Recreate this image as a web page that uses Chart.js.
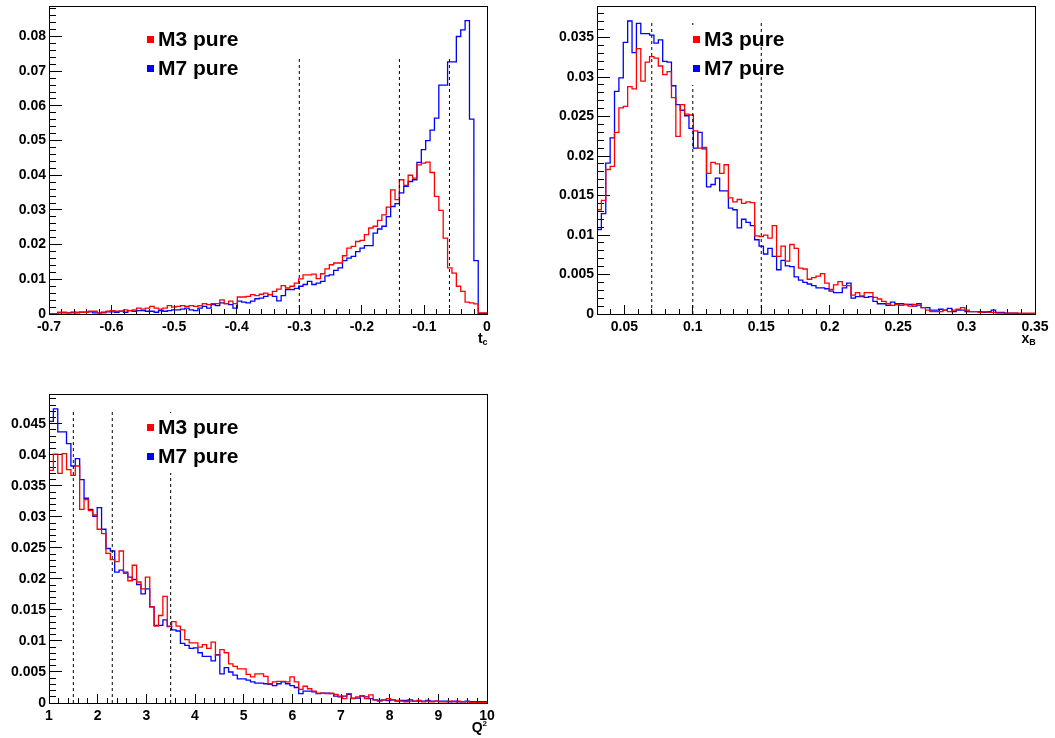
<!DOCTYPE html>
<html>
<head>
<meta charset="utf-8">
<script src="https://cdn.jsdelivr.net/npm/chart.js@4.4.1/dist/chart.umd.min.js"></script>
<style>
  html, body { margin: 0; padding: 0; background: #fff; }
  body { width: 1055px; height: 738px; position: relative; overflow: hidden; }
  canvas { position: absolute; }
</style>
</head>
<body>
<canvas id="tcChart" width="527" height="350" style="left:0;top:0"></canvas>
<canvas id="xbChart" width="528" height="350" style="left:527px;top:0"></canvas>
<canvas id="q2Chart" width="527" height="368" style="left:0;top:370px"></canvas>
<script>
// series names
const seriesNames = ['M3 pure', 'M7 pure'];

// t_c panel : 100 bins between -0.7 and 0
const tcRange = [-0.7, 0];
const tcM3 = [
  0.0001, 0.0001, 0.0001, 0.0005, 0.0005, 0.0003, 0.0003, 0.0005, 0.0005, 0.0005,
  0.0008, 0.0008, 0.0003, 0.0003, 0.0008, 0.0010, 0.0008, 0.0008, 0.0012, 0.0010,
  0.0012, 0.0017, 0.0014, 0.0017, 0.0022, 0.0017, 0.0014, 0.0017, 0.0024, 0.0020,
  0.0022, 0.0024, 0.0022, 0.0024, 0.0022, 0.0024, 0.0030, 0.0027, 0.0030, 0.0030,
  0.0041, 0.0030, 0.0037, 0.0030, 0.0049, 0.0049, 0.0051, 0.0056, 0.0053, 0.0057,
  0.0060, 0.0056, 0.0065, 0.0072, 0.0082, 0.0075, 0.0080, 0.0089, 0.0101, 0.0113,
  0.0113, 0.0115, 0.0102, 0.0116, 0.0130, 0.0142, 0.0147, 0.0147, 0.0168, 0.0190,
  0.0195, 0.0209, 0.0212, 0.0229, 0.0248, 0.0253, 0.0270, 0.0286, 0.0308, 0.0358,
  0.0330, 0.0387, 0.0371, 0.0400, 0.0392, 0.0430, 0.0435, 0.0438, 0.0408, 0.0339,
  0.0299, 0.0219, 0.0133, 0.0118, 0.0080, 0.0065, 0.0034, 0.0032, 0.0029, 0.0003
];
const tcM7 = [
  0.0001, 0.0001, 0.0001, 0.0003, 0.0003, 0.0003, 0.0005, 0.0003, 0.0005, 0.0005,
  0.0006, 0.0003, 0.0003, 0.0005, 0.0006, 0.0006, 0.0005, 0.0008, 0.0005, 0.0010,
  0.0008, 0.0010, 0.0010, 0.0008, 0.0008, 0.0005, 0.0010, 0.0008, 0.0010, 0.0012,
  0.0012, 0.0014, 0.0017, 0.0012, 0.0010, 0.0017, 0.0022, 0.0017, 0.0027, 0.0024,
  0.0032, 0.0030, 0.0027, 0.0017, 0.0037, 0.0034, 0.0032, 0.0037, 0.0044, 0.0046,
  0.0051, 0.0056, 0.0051, 0.0038, 0.0053, 0.0070, 0.0070, 0.0074, 0.0080, 0.0085,
  0.0094, 0.0085, 0.0089, 0.0094, 0.0110, 0.0113, 0.0126, 0.0133, 0.0154, 0.0161,
  0.0166, 0.0180, 0.0190, 0.0197, 0.0197, 0.0233, 0.0245, 0.0253, 0.0281, 0.0310,
  0.0318, 0.0349, 0.0368, 0.0382, 0.0387, 0.0437, 0.0474, 0.0500, 0.0530, 0.0565,
  0.0660, 0.0660, 0.0727, 0.0727, 0.0800, 0.0819, 0.0846, 0.0562, 0.0154, 0.0002
];
const tcCuts = [-0.3, -0.14, -0.06];
const tcCutTop = 0.0742;
const tcXTicks = [-0.7, -0.6, -0.5, -0.4, -0.3, -0.2, -0.1, 0];
const tcYTicks = [0, 0.01, 0.02, 0.03, 0.04, 0.05, 0.06, 0.07, 0.08];
const tcYMax = 0.0888;

// x_B panel : 100 bins between 0.03 and 0.35
const xbRange = [0.03, 0.35];
const xbM3 = [
  0.0069, 0.0132, 0.0144, 0.0183, 0.0187, 0.0230, 0.0261, 0.0263, 0.0288, 0.0285,
  0.0336, 0.0295, 0.0319, 0.0326, 0.0324, 0.0314, 0.0303, 0.0307, 0.0274, 0.0225,
  0.0265, 0.0253, 0.0252, 0.0232, 0.0210, 0.0211, 0.0178, 0.0192, 0.0190, 0.0178,
  0.0189, 0.0147, 0.0142, 0.0145, 0.0140, 0.0142, 0.0141, 0.0099, 0.0098, 0.0100,
  0.0096, 0.0112, 0.0073, 0.0086, 0.0067, 0.0088, 0.0083, 0.0058, 0.0057, 0.0044,
  0.0046, 0.0048, 0.0051, 0.0039, 0.0031, 0.0037, 0.0041, 0.0036, 0.0036, 0.0024,
  0.0027, 0.0023, 0.0027, 0.0027, 0.0021, 0.0019, 0.0016, 0.0013, 0.0011, 0.0012,
  0.0011, 0.0012, 0.0010, 0.0012, 0.0011, 0.0008, 0.0005, 0.0003, 0.0003, 0.0003,
  0.0005, 0.0003, 0.0005, 0.0006, 0.0008, 0.0005, 0.0003, 0.0003, 0.0002, 0.0003,
  0.0002, 0.0002, 0.0001, 0.0001, 0.0001, 0.0001, 0.0001, 0.0001, 0.0001, 0.0001
];
const xbM7 = [
  0.0033, 0.0107, 0.0127, 0.0191, 0.0223, 0.0282, 0.0299, 0.0344, 0.0371, 0.0331,
  0.0368, 0.0355, 0.0355, 0.0353, 0.0343, 0.0347, 0.0320, 0.0319, 0.0289, 0.0265,
  0.0258, 0.0251, 0.0235, 0.0210, 0.0230, 0.0209, 0.0161, 0.0164, 0.0172, 0.0156,
  0.0156, 0.0134, 0.0132, 0.0109, 0.0120, 0.0116, 0.0112, 0.0094, 0.0086, 0.0076,
  0.0083, 0.0073, 0.0056, 0.0068, 0.0061, 0.0060, 0.0047, 0.0043, 0.0040, 0.0038,
  0.0036, 0.0033, 0.0033, 0.0032, 0.0029, 0.0027, 0.0027, 0.0033, 0.0039, 0.0020,
  0.0022, 0.0022, 0.0021, 0.0022, 0.0016, 0.0013, 0.0013, 0.0011, 0.0015, 0.0013,
  0.0013, 0.0012, 0.0012, 0.0010, 0.0013, 0.0008, 0.0008, 0.0005, 0.0005, 0.0006,
  0.0005, 0.0007, 0.0003, 0.0005, 0.0005, 0.0003, 0.0003, 0.0003, 0.0003, 0.0002,
  0.0003, 0.0005, 0.0002, 0.0002, 0.0001, 0.0001, 0.0001, 0, 0, 0
];
const xbCuts = [0.07, 0.1, 0.15];
const xbCutTop = 0.037;
const xbXTicks = [0.05, 0.1, 0.15, 0.2, 0.25, 0.3, 0.35];
const xbYTicks = [0, 0.005, 0.01, 0.015, 0.02, 0.025, 0.03, 0.035];
const xbYMax = 0.039;

// Q2 panel : 100 bins between 1 and 10
const q2Range = [1, 10];
const q2M3 = [
  0.0338, 0.0375, 0.0401, 0.0370, 0.0402, 0.0376, 0.0367, 0.0382, 0.0312, 0.0328,
  0.0310, 0.0303, 0.0280, 0.0273, 0.0241, 0.0231, 0.0228, 0.0245, 0.0209, 0.0197,
  0.0222, 0.0195, 0.0184, 0.0203, 0.0155, 0.0124, 0.0141, 0.0172, 0.0124, 0.0131,
  0.0124, 0.0118, 0.0102, 0.0097, 0.0097, 0.0090, 0.0094, 0.0088, 0.0098, 0.0077,
  0.0086, 0.0081, 0.0063, 0.0059, 0.0055, 0.0055, 0.0046, 0.0042, 0.0047, 0.0047,
  0.0043, 0.0031, 0.0034, 0.0035, 0.0035, 0.0034, 0.0042, 0.0034, 0.0022, 0.0027,
  0.0023, 0.0019, 0.0016, 0.0016, 0.0015, 0.0016, 0.0014, 0.0011, 0.0007, 0.0015,
  0.0007, 0.0010, 0.0012, 0.0007, 0.0013, 0.0005, 0.0003, 0.0005, 0.0007, 0.0005,
  0.0004, 0.0003, 0.0002, 0.0003, 0.0003, 0.0004, 0.0002, 0.0003, 0.0002, 0.0003,
  0.0002, 0.0002, 0.0003, 0.0002, 0.0003, 0.0002, 0.0002, 0.0001, 0.0001, 0.0001
];
const q2M7 = [
  0.0405, 0.0454, 0.0474, 0.0437, 0.0437, 0.0418, 0.0382, 0.0394, 0.0360, 0.0330,
  0.0312, 0.0301, 0.0315, 0.0280, 0.0249, 0.0245, 0.0211, 0.0214, 0.0211, 0.0203,
  0.0199, 0.0191, 0.0176, 0.0184, 0.0155, 0.0125, 0.0125, 0.0134, 0.0123, 0.0118,
  0.0116, 0.0096, 0.0093, 0.0088, 0.0089, 0.0081, 0.0075, 0.0075, 0.0068, 0.0078,
  0.0047, 0.0057, 0.0050, 0.0045, 0.0039, 0.0039, 0.0037, 0.0034, 0.0032, 0.0032,
  0.0031, 0.0030, 0.0028, 0.0031, 0.0034, 0.0031, 0.0028, 0.0025, 0.0015, 0.0019,
  0.0019, 0.0018, 0.0015, 0.0016, 0.0016, 0.0015, 0.0011, 0.0010, 0.0011, 0.0014,
  0.0008, 0.0008, 0.0011, 0.0010, 0.0007, 0.0005, 0.0004, 0.0005, 0.0004, 0.0005,
  0.0003, 0.0004, 0.0004, 0.0005, 0.0003, 0.0003, 0.0003, 0.0004, 0.0003, 0.0003,
  0.0003, 0.0003, 0.0002, 0.0003, 0.0002, 0.0002, 0.0003, 0.0002, 0.0002, 0.0002
];
const q2Cuts = [1.5, 2.3, 3.5];
const q2CutTop = 0.047;
const q2XTicks = [1, 2, 3, 4, 5, 6, 7, 8, 9, 10];
const q2YTicks = [0, 0.005, 0.01, 0.015, 0.02, 0.025, 0.03, 0.035, 0.04, 0.045];
const q2YMax = 0.0498;

const FONT = "'Liberation Sans', Arial, Helvetica, sans-serif";

// histogram outline: one point per bin left edge, closed to zero at both ends
function histPoints(range, vals) {
    const w = (range[1] - range[0]) / vals.length;
    const pts = [{ x: range[0], y: 0 }];
    vals.forEach((v, i) => pts.push({ x: range[0] + i * w, y: v }));
    pts.push({ x: range[1], y: vals[vals.length - 1] });
    pts.push({ x: range[1], y: 0 });
    return pts;
}

// minor tick values between lo and hi
function minorValues(lo, hi, step) {
    const out = [];
    const k0 = Math.ceil(lo / step - 1e-6), k1 = Math.floor(hi / step + 1e-6);
    for (let k = k0; k <= k1; k++) out.push(Math.round(k * step * 1e6) / 1e6);
    return out;
}

// frame, legend box, axis title
function rootDecor(p) {
    return {
        id: 'rootDecor',
        afterDraw(chart) {
            const ctx = chart.ctx;
            const a = chart.chartArea;
            const left = Math.round(a.left), bottom = Math.round(a.bottom);
            const top = Math.round(a.top), right = Math.round(a.right);
            ctx.save();
            ctx.fillStyle = '#000';
            ctx.fillRect(left, top, right - left, 1);
            ctx.fillRect(left, bottom, right - left + 1, 1);
            ctx.fillRect(left, top, 1, bottom - top);
            ctx.fillRect(right, top, 1, bottom - top + 1);

            // legend
            const lg = p.legend;
            ctx.fillStyle = '#fff';
            ctx.fillRect(lg.x - 3, lg.y1 - 21, 62, lg.y2 - lg.y1 + 31);
            ctx.font = 'bold 21px ' + FONT;
            ctx.textBaseline = 'alphabetic';
            ctx.textAlign = 'left';
            [['#ff0000', lg.y1, seriesNames[0]], ['#0000ff', lg.y2, seriesNames[1]]].forEach(([c, b, t]) => {
                ctx.fillStyle = c;
                ctx.fillRect(lg.x, b - 10, 7, 7);
                ctx.fillStyle = '#000';
                ctx.fillText(t, lg.x + 11, b);
            });

            // axis title
            const tt = p.title;
            ctx.fillStyle = '#000';
            ctx.font = 'bold 8px ' + FONT;
            const wSmall = ctx.measureText(tt.small).width;
            ctx.font = 'bold 14px ' + FONT;
            const wMain = ctx.measureText(tt.main).width;
            const xStart = a.right - wMain - wSmall;
            ctx.fillText(tt.main, xStart, a.bottom + 29);
            ctx.font = (tt.sup ? 'bold 8px ' : 'bold 9px ') + FONT;
            ctx.fillText(tt.small, xStart + wMain, a.bottom + (tt.sup ? 23 : 31));
            ctx.restore();
        }
    };
}

function makePanel(p) {
    const cutSets = p.cuts.map(c => ({
        data: [{ x: c, y: 0 }, { x: c, y: p.cutTop }],
        borderColor: '#000',
        borderWidth: 1,
        borderDash: [3, 3],
        pointRadius: 0,
        fill: false
    }));
    const histSet = (vals, color, name) => ({
        label: name,
        data: histPoints(p.range, vals),
        borderColor: color,
        borderWidth: 1.3,
        stepped: 'after',
        pointRadius: 0,
        fill: false
    });
    const tickFont = { family: FONT, size: 14, weight: 'bold' };
    // ticks point into the frame: negative tick length, label padding compensates
    const innerGrid = len => ({
        display: true, drawOnChartArea: false, drawTicks: true,
        tickLength: -len, color: '#000', lineWidth: 1, tickWidth: 1
    });
    const xMinorVals = minorValues(p.range[0], p.range[1], p.xMinor);
    const yMinorVals = minorValues(0, p.yMax, p.yMinor);
    return new Chart(document.getElementById(p.id), {
        type: 'line',
        data: {
            datasets: cutSets.concat([
                histSet(p.m3, '#ff0000', seriesNames[0]),
                histSet(p.m7, '#0000ff', seriesNames[1])
            ])
        },
        options: {
            responsive: false,
            animation: false,
            events: [],
            layout: { padding: { left: 0, right: p.padRight, top: p.padTop, bottom: 0 } },
            plugins: {
                legend: { display: false },
                tooltip: { enabled: false }
            },
            scales: {
                x: {
                    type: 'linear', axis: 'x', position: 'bottom', weight: 1,
                    min: p.range[0], max: p.range[1],
                    grid: innerGrid(9),
                    border: { display: false },
                    ticks: { padding: 14, color: '#000', font: tickFont, maxRotation: 0, minRotation: 0,
                             autoSkip: false, callback: v => String(v) },
                    afterBuildTicks: s => { s.ticks = p.xTicks.map(v => ({ value: v })); },
                    afterFit: s => {
                        s.height = p.xAxisHeight;
                        s.paddingLeft = 0;
                        s.paddingRight = 0;
                    }
                },
                xMinor: {
                    type: 'linear', axis: 'x', position: 'bottom', weight: 0,
                    min: p.range[0], max: p.range[1],
                    grid: innerGrid(5),
                    border: { display: false },
                    ticks: { display: false },
                    afterBuildTicks: s => { s.ticks = xMinorVals.map(v => ({ value: v })); },
                    afterFit: s => {
                        s.height = 0;
                        s.paddingLeft = 0;
                        s.paddingRight = 0;
                    }
                },
                y: {
                    type: 'linear', axis: 'y', position: 'left', weight: 1,
                    min: 0, max: p.yMax,
                    grid: innerGrid(13),
                    border: { display: false },
                    ticks: { padding: 16, color: '#000', font: tickFont, autoSkip: false, callback: v => String(v) },
                    afterBuildTicks: s => { s.ticks = p.yTicks.map(v => ({ value: v })); },
                    afterFit: s => {
                        s.width = p.yAxisWidth;
                        s.paddingTop = 0;
                        s.paddingBottom = 0;
                    }
                },
                yMinor: {
                    type: 'linear', axis: 'y', position: 'left', weight: 0,
                    min: 0, max: p.yMax,
                    grid: innerGrid(7),
                    border: { display: false },
                    ticks: { display: false },
                    afterBuildTicks: s => { s.ticks = yMinorVals.map(v => ({ value: v })); },
                    afterFit: s => {
                        s.width = 0;
                        s.paddingTop = 0;
                        s.paddingBottom = 0;
                    }
                }
            }
        },
        plugins: [rootDecor(p)]
    });
}

makePanel({
    id: 'tcChart', range: tcRange, m3: tcM3, m7: tcM7, cuts: tcCuts, cutTop: tcCutTop,
    xTicks: tcXTicks, yTicks: tcYTicks, yMax: tcYMax, xMinor: 0.02, yMinor: 0.002,
    yAxisWidth: 49, padRight: 40, padTop: 6, xAxisHeight: 36,
    legend: { x: 147, y1: 46, y2: 75 },
    title: { main: 't', small: 'c', sup: false }
});
makePanel({
    id: 'xbChart', range: xbRange, m3: xbM3, m7: xbM7, cuts: xbCuts, cutTop: xbCutTop,
    xTicks: xbXTicks, yTicks: xbYTicks, yMax: xbYMax, xMinor: 0.01, yMinor: 0.001,
    yAxisWidth: 70, padRight: 20, padTop: 6, xAxisHeight: 36,
    legend: { x: 166, y1: 46, y2: 75 },
    title: { main: 'x', small: 'B', sup: false }
});
makePanel({
    id: 'q2Chart', range: q2Range, m3: q2M3, m7: q2M7, cuts: q2Cuts, cutTop: q2CutTop,
    xTicks: q2XTicks, yTicks: q2YTicks, yMax: q2YMax, xMinor: 0.2, yMinor: 0.001,
    yAxisWidth: 49, padRight: 40, padTop: 24, xAxisHeight: 35,
    legend: { x: 147, y1: 64, y2: 93 },
    title: { main: 'Q', small: '2', sup: true }
});
</script>
</body>
</html>
